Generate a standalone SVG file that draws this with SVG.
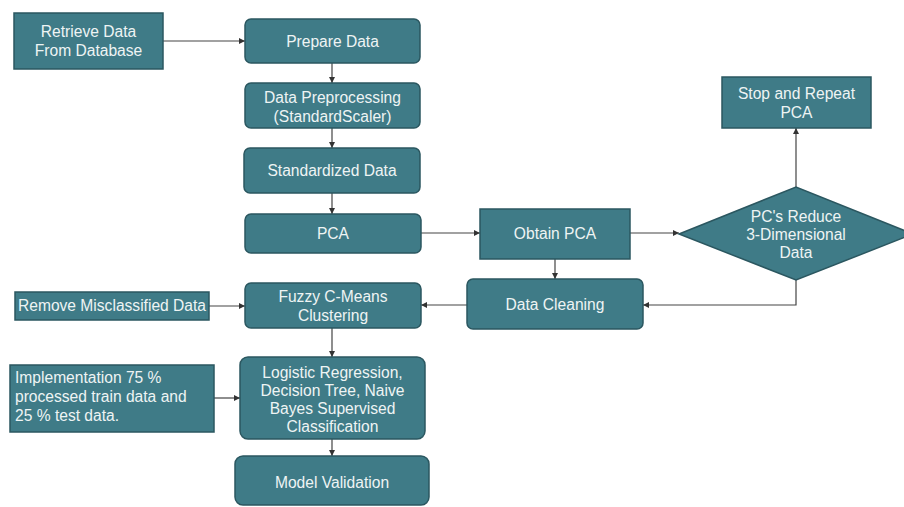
<svg xmlns="http://www.w3.org/2000/svg" width="904" height="507" viewBox="0 0 904 507">
<defs>
<style>
.n{fill:#3f7b87;stroke:#2b5760;stroke-width:1.5}
.t{font-family:"Liberation Sans",Arial,sans-serif;font-size:15.6px;fill:#eef4f4;text-anchor:middle}
.tl{font-family:"Liberation Sans",Arial,sans-serif;font-size:15.6px;fill:#eef4f4;text-anchor:start}
.c{stroke:#444;stroke-width:1.2;fill:none;marker-end:url(#a)}
</style>
<marker id="a" viewBox="0 0 6 6" refX="6" refY="3" markerWidth="5" markerHeight="5" orient="auto"><path d="M0,0L6,3L0,6z" fill="#333"/></marker>
</defs>
<rect width="904" height="507" fill="#ffffff"/>
<g id="connectors">
<path class="c" d="M163,41H245"/>
<path class="c" d="M332,63V83"/>
<path class="c" d="M332,128V148"/>
<path class="c" d="M332,193V214"/>
<path class="c" d="M421,233H480"/>
<path class="c" d="M630,233H679"/>
<path class="c" d="M796,187V128"/>
<path class="c" d="M796,280V305H643"/>
<path class="c" d="M555,259V279"/>
<path class="c" d="M467,305H421"/>
<path class="c" d="M209,306H245"/>
<path class="c" d="M332,328V357"/>
<path class="c" d="M214,398H240"/>
<path class="c" d="M332,439V456"/>
</g>
<g id="retrieve"><rect class="n" x="14" y="13" width="149" height="56"/><text class="t" x="88.5" y="37">Retrieve Data</text><text class="t" x="88.5" y="56">From Database</text></g>
<g id="prepare"><rect class="n" x="245" y="19" width="175" height="44" rx="6"/><text class="t" x="332.5" y="47">Prepare Data</text></g>
<g id="preprocess"><rect class="n" x="245" y="83" width="175" height="45" rx="6"/><text class="t" x="332.5" y="103">Data Preprocessing</text><text class="t" x="332.5" y="122">(StandardScaler)</text></g>
<g id="standardized"><rect class="n" x="244" y="148" width="176" height="45" rx="6"/><text class="t" x="332" y="176">Standardized Data</text></g>
<g id="pca"><rect class="n" x="245" y="214" width="176" height="39" rx="6"/><text class="t" x="333" y="239">PCA</text></g>
<g id="obtain"><rect class="n" x="480" y="209" width="150" height="50"/><text class="t" x="555" y="239">Obtain PCA</text></g>
<g id="decision"><polygon class="n" points="679,234 796,187 913,234 796,280"/><text class="t" x="796" y="222">PC's Reduce</text><text class="t" x="796" y="240">3-Dimensional</text><text class="t" x="796" y="258">Data</text></g>
<g id="stop"><rect class="n" x="722" y="77" width="149" height="51"/><text class="t" x="796.5" y="99">Stop and Repeat</text><text class="t" x="796.5" y="118">PCA</text></g>
<g id="cleaning"><rect class="n" x="467" y="279" width="176" height="50" rx="6"/><text class="t" x="555" y="310">Data Cleaning</text></g>
<g id="fuzzy"><rect class="n" x="245" y="283" width="176" height="45" rx="6"/><text class="t" x="333" y="302">Fuzzy C-Means</text><text class="t" x="333" y="321">Clustering</text></g>
<g id="remove"><rect class="n" x="15" y="292" width="194" height="28"/><text class="t" x="112" y="311">Remove Misclassified Data</text></g>
<g id="logistic"><rect class="n" x="240" y="357" width="185" height="82" rx="8"/><text class="t" x="332.5" y="378">Logistic Regression,</text><text class="t" x="332.5" y="396">Decision Tree, Naive</text><text class="t" x="332.5" y="414">Bayes Supervised</text><text class="t" x="332.5" y="432">Classification</text></g>
<g id="implementation"><rect class="n" x="10" y="365" width="204" height="67"/><text class="tl" x="15" y="383">Implementation 75 %</text><text class="tl" x="15" y="402">processed train data and</text><text class="tl" x="15" y="421">25 % test data.</text></g>
<g id="validation"><rect class="n" x="235" y="456" width="194" height="49" rx="8"/><text class="t" x="332" y="488">Model Validation</text></g>
</svg>
